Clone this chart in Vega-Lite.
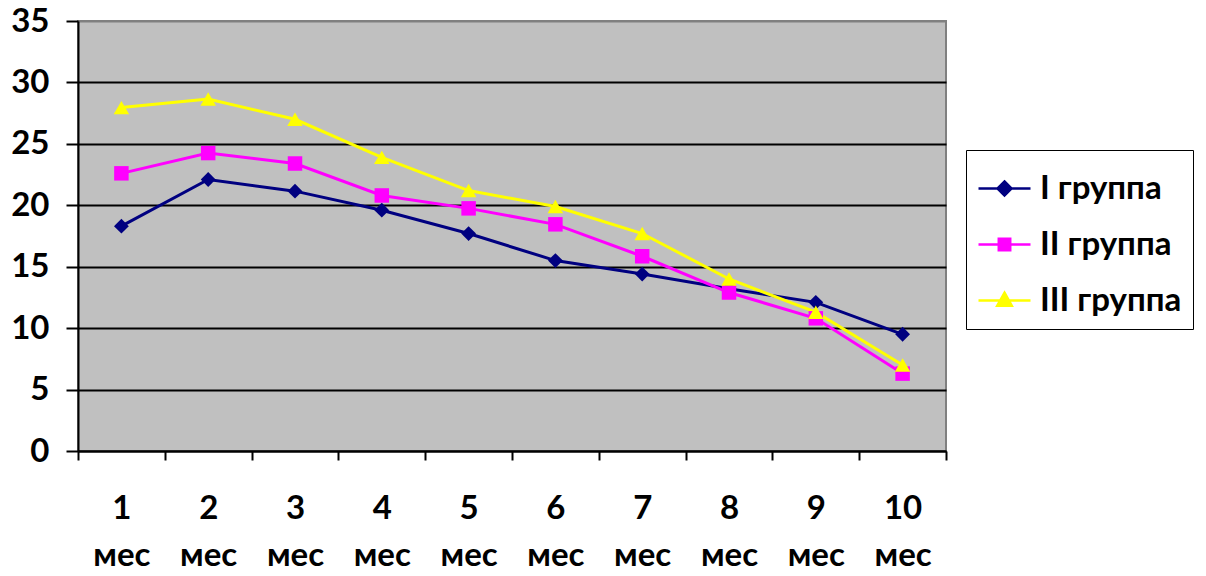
{
  "$schema": "https://vega.github.io/schema/vega-lite/v6.json",
  "width": 868,
  "height": 430,
  "autosize": "none",
  "padding": {"left": 78, "top": 21, "right": 260, "bottom": 125},
  "background": "white",
  "config": {
    "font": "Lato",
    "view": {"fill": "#C0C0C0", "stroke": "#808080", "strokeWidth": 2}
  },
  "data": {
    "values": [
      {"month": "1 мес", "group": "I группа", "value": 18.3},
      {"month": "2 мес", "group": "I группа", "value": 22.1},
      {"month": "3 мес", "group": "I группа", "value": 21.15},
      {"month": "4 мес", "group": "I группа", "value": 19.6},
      {"month": "5 мес", "group": "I группа", "value": 17.7},
      {"month": "6 мес", "group": "I группа", "value": 15.5},
      {"month": "7 мес", "group": "I группа", "value": 14.4},
      {"month": "8 мес", "group": "I группа", "value": 13.2},
      {"month": "9 мес", "group": "I группа", "value": 12.1},
      {"month": "10 мес", "group": "I группа", "value": 9.5},
      {"month": "1 мес", "group": "II группа", "value": 22.6},
      {"month": "2 мес", "group": "II группа", "value": 24.25},
      {"month": "3 мес", "group": "II группа", "value": 23.4},
      {"month": "4 мес", "group": "II группа", "value": 20.8},
      {"month": "5 мес", "group": "II группа", "value": 19.75},
      {"month": "6 мес", "group": "II группа", "value": 18.45},
      {"month": "7 мес", "group": "II группа", "value": 15.85},
      {"month": "8 мес", "group": "II группа", "value": 12.9},
      {"month": "9 мес", "group": "II группа", "value": 10.8},
      {"month": "10 мес", "group": "II группа", "value": 6.3},
      {"month": "1 мес", "group": "III группа", "value": 27.95},
      {"month": "2 мес", "group": "III группа", "value": 28.65},
      {"month": "3 мес", "group": "III группа", "value": 27.0},
      {"month": "4 мес", "group": "III группа", "value": 23.9},
      {"month": "5 мес", "group": "III группа", "value": 21.2},
      {"month": "6 мес", "group": "III группа", "value": 19.9},
      {"month": "7 мес", "group": "III группа", "value": 17.7},
      {"month": "8 мес", "group": "III группа", "value": 14.0},
      {"month": "9 мес", "group": "III группа", "value": 11.3},
      {"month": "10 мес", "group": "III группа", "value": 7.0}
    ]
  },
  "encoding": {
    "x": {
      "field": "month",
      "type": "nominal",
      "sort": ["1 мес", "2 мес", "3 мес", "4 мес", "5 мес", "6 мес", "7 мес", "8 мес", "9 мес", "10 мес"],
      "scale": {"type": "band", "paddingInner": 0, "paddingOuter": 0},
      "axis": {
        "title": null,
        "labelAngle": 0,
        "labelExpr": "split(datum.label, ' ')",
        "labelFont": "Lato",
        "labelFontSize": 33,
        "labelFontWeight": "bold",
        "labelColor": "black",
        "labelLineHeight": 47,
        "labelPadding": 32,
        "labelBaseline": "top",
        "tickBand": "extent",
        "tickSize": 9,
        "tickWidth": 2,
        "tickColor": "black",
        "domainColor": "black",
        "domainWidth": 2,
        "grid": false
      }
    },
    "y": {
      "field": "value",
      "type": "quantitative",
      "scale": {"domain": [0, 35], "nice": false},
      "axis": {
        "title": null,
        "values": [0, 5, 10, 15, 20, 25, 30, 35],
        "labelFont": "Lato",
        "labelFontSize": 33,
        "labelFontWeight": "bold",
        "labelColor": "black",
        "labelPadding": 17,
        "tickSize": 12,
        "tickWidth": 2,
        "tickColor": "black",
        "domainColor": "black",
        "domainWidth": 2,
        "grid": true,
        "gridColor": {"condition": {"test": "datum.value == 35", "value": "#808080"}, "value": "black"},
        "gridWidth": 2,
        "gridOpacity": 1
      }
    },
    "color": {
      "field": "group",
      "type": "nominal",
      "scale": {"domain": ["I группа", "II группа", "III группа"], "range": ["#000080", "#FF00FF", "#FFFF00"]},
      "legend": {
        "title": null,
        "orient": "none",
        "legendX": 888,
        "legendY": 129,
        "strokeColor": "black",
        "fillColor": "white",
        "padding": 11,
        "labelFont": "Lato",
        "labelFontSize": 33,
        "labelFontWeight": "bold",
        "labelColor": "black",
        "labelOffset": 8,
        "rowPadding": 11,
        "symbolSize": 2704,
        "symbolStrokeWidth": 2.5,
        "encode": {
          "symbols": {
            "update": {
              "shape": {"signal": "datum.index === 0 ? 'M-1,0H1M0,-0.27L0.27,0L0,0.27L-0.27,0Z' : datum.index === 1 ? 'M-1,0H1M-0.22,-0.22H0.22V0.22H-0.22Z' : 'M-1,0H1M0,-0.3L0.28,0.2L-0.28,0.2Z'"},
              "fill": {"scale": "color", "field": "value"},
              "stroke": {"scale": "color", "field": "value"},
              "strokeWidth": {"value": 2.5},
              "opacity": {"value": 1},
              "fillOpacity": {"value": 1}
            }
          }
        }
      }
    }
  },
  "layer": [
    {
      "mark": {"type": "line", "strokeWidth": 3},
      "encoding": {"detail": {"field": "group"}}
    },
    {
      "transform": [{"filter": "datum.group === 'I группа'"}],
      "mark": {"type": "point", "shape": "diamond", "filled": true, "opacity": 1, "size": 220}
    },
    {
      "transform": [{"filter": "datum.group === 'II группа'"}],
      "mark": {"type": "point", "shape": "square", "filled": true, "opacity": 1, "size": 210}
    },
    {
      "transform": [{"filter": "datum.group === 'III группа'"}],
      "mark": {"type": "point", "shape": "triangle-up", "filled": true, "opacity": 1, "size": 240}
    }
  ]
}
